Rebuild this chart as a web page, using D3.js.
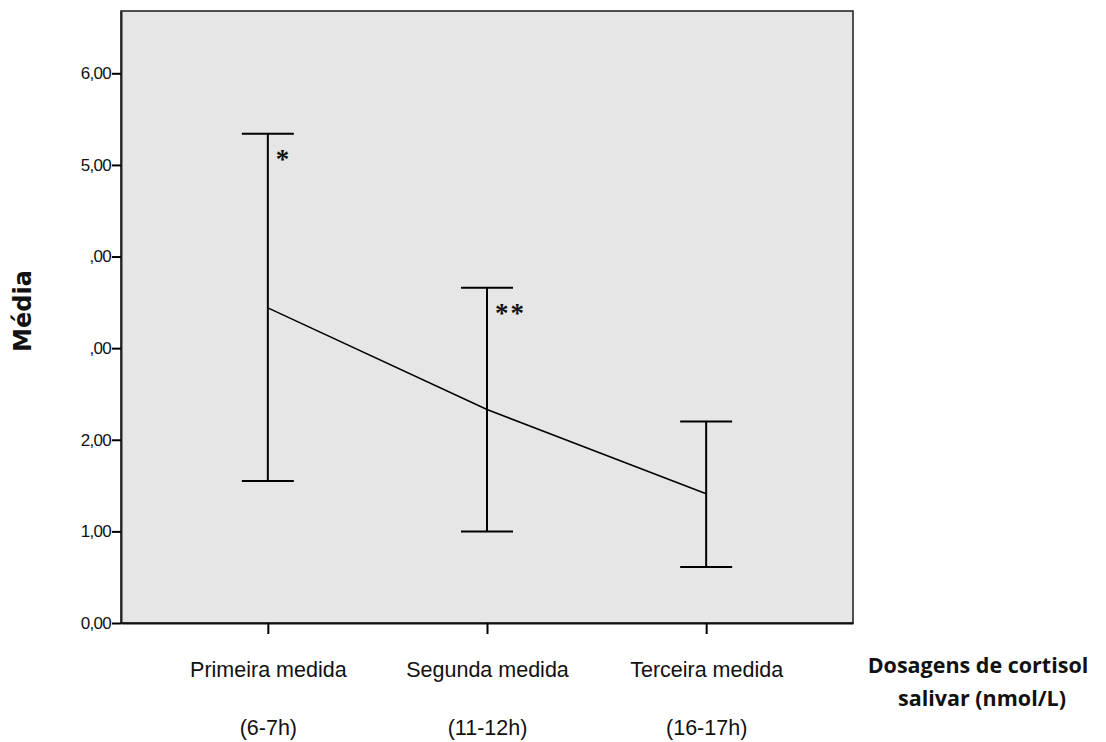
<!DOCTYPE html>
<html>
<head>
<meta charset="utf-8">
<script src="https://cdn.jsdelivr.net/npm/d3@7"></script>
<style>
  body { margin: 0; background: #fff; }
  svg { display: block; }
  .tick text { font-family: "Liberation Sans", Arial, sans-serif; }
</style>
</head>
<body>
<div id="chart-area"></div>
<script>
// data
let categories = ["Primeira medida", "Segunda medida", "Terceira medida"];
let periods = ["(6-7h)", "(11-12h)", "(16-17h)"];
let means = [3.44, 2.33, 1.41];
let upper = [5.34, 3.66, 2.20];
let lower = [1.55, 1.00, 0.61];
let marks = ["*", "**", ""];
let yTicks = [0, 1, 2, 3, 4, 5, 6];
let yTickLabels = ["0,00", "1,00", "2,00", ",00", ",00", "5,00", "6,00"];

let margin = {top: 11, right: 253, bottom: 119, left: 121};
let width = 1106 - margin.left - margin.right;
let height = 742 - margin.top - margin.bottom;

let svg = d3.select("#chart-area").append("svg")
    .attr("width", 1106)
    .attr("height", 742)
  .append("g")
    .attr("transform", "translate(" + margin.left + "," + margin.top + ")");

let x = d3.scalePoint()
  .domain(categories)
  .range([0, width])
  .padding(0.67);

let y = d3.scaleLinear()
  .domain([0, 6.68])
  .range([height, 0]);

// plot background
svg.append("rect")
  .attr("width", width)
  .attr("height", height)
  .attr("fill", "#e6e6e6")
  .attr("stroke", "#1a1a1a")
  .attr("stroke-width", 1.5);

// axes
let yAxis = d3.axisLeft(y)
  .tickValues(yTicks)
  .tickSize(9)
  .tickSizeOuter(0)
  .tickPadding(1)
  .tickFormat((d, i) => yTickLabels[i]);

let yAxisGroup = svg.append("g").attr("class", "y-axis").call(yAxis);
yAxisGroup.select(".domain").attr("stroke", "#222").attr("stroke-width", 2);
yAxisGroup.selectAll(".tick line").attr("stroke", "#000").attr("stroke-width", 2);
yAxisGroup.selectAll(".tick text").attr("font-size", 17).attr("letter-spacing", -0.7).attr("fill", "#111");

let xAxis = d3.axisBottom(x).tickSize(11).tickSizeOuter(0).tickFormat("");
let xAxisGroup = svg.append("g")
  .attr("class", "x-axis")
  .attr("transform", "translate(0," + height + ")")
  .call(xAxis);
xAxisGroup.select(".domain").attr("stroke", "#111").attr("stroke-width", 2);
xAxisGroup.selectAll(".tick line").attr("stroke", "#000").attr("stroke-width", 2);

// category labels
xAxisGroup.selectAll(".tick").append("text")
  .attr("y", 54)
  .attr("text-anchor", "middle")
  .attr("font-family", "'Open Sans', sans-serif")
  .attr("font-size", 21.5)
  .attr("fill", "#111")
  .text(d => d);

xAxisGroup.selectAll(".tick").append("text")
  .attr("y", 112)
  .attr("text-anchor", "middle")
  .attr("font-family", "'Open Sans', sans-serif")
  .attr("font-size", 21.5)
  .attr("fill", "#111")
  .text((d, i) => periods[i]);

// error bars
let capW = 26;
let bars = svg.selectAll(".bar")
  .data(categories)
  .enter().append("g")
  .attr("class", "bar");

bars.append("line")
  .attr("x1", d => x(d)).attr("x2", d => x(d))
  .attr("y1", (d, i) => y(upper[i])).attr("y2", (d, i) => y(lower[i]))
  .attr("stroke", "#000").attr("stroke-width", 2);

bars.append("line")
  .attr("x1", d => x(d) - capW).attr("x2", d => x(d) + capW)
  .attr("y1", (d, i) => y(upper[i])).attr("y2", (d, i) => y(upper[i]))
  .attr("stroke", "#000").attr("stroke-width", 2);

bars.append("line")
  .attr("x1", d => x(d) - capW).attr("x2", d => x(d) + capW)
  .attr("y1", (d, i) => y(lower[i])).attr("y2", (d, i) => y(lower[i]))
  .attr("stroke", "#000").attr("stroke-width", 2);

// mean line
let line = d3.line()
  .x(d => x(d))
  .y((d, i) => y(means[i]));

svg.append("path")
  .attr("d", line(categories))
  .attr("fill", "none")
  .attr("stroke", "#000")
  .attr("stroke-width", 1.5);

// significance marks
bars.append("text")
  .attr("x", d => x(d) + 8)
  .attr("y", (d, i) => y(upper[i]) + 34)
  .attr("font-family", "'Liberation Serif', serif")
  .attr("font-weight", "bold")
  .attr("font-size", 27)
  .attr("letter-spacing", 2)
  .attr("fill", "#111")
  .text((d, i) => marks[i]);

// axis titles
svg.append("text")
  .attr("transform", "translate(" + (-margin.left + 31) + "," + (height / 2 - 6) + ") rotate(-90)")
  .attr("text-anchor", "middle")
  .attr("font-family", "'DejaVu Sans', sans-serif")
  .attr("font-weight", "bold")
  .attr("font-size", 24)
  .attr("fill", "#111")
  .text("Média");

let xTitle = svg.append("text")
  .attr("text-anchor", "middle")
  .attr("font-family", "'Open Sans', sans-serif")
  .attr("font-weight", "bold")
  .attr("font-size", 21.5)
  .attr("fill", "#111");
xTitle.append("tspan").attr("x", width + 125).attr("y", height + 50).text("Dosagens de cortisol");
xTitle.append("tspan").attr("x", width + 129).attr("y", height + 83).text("salivar (nmol/L)");
</script>
</body>
</html>
